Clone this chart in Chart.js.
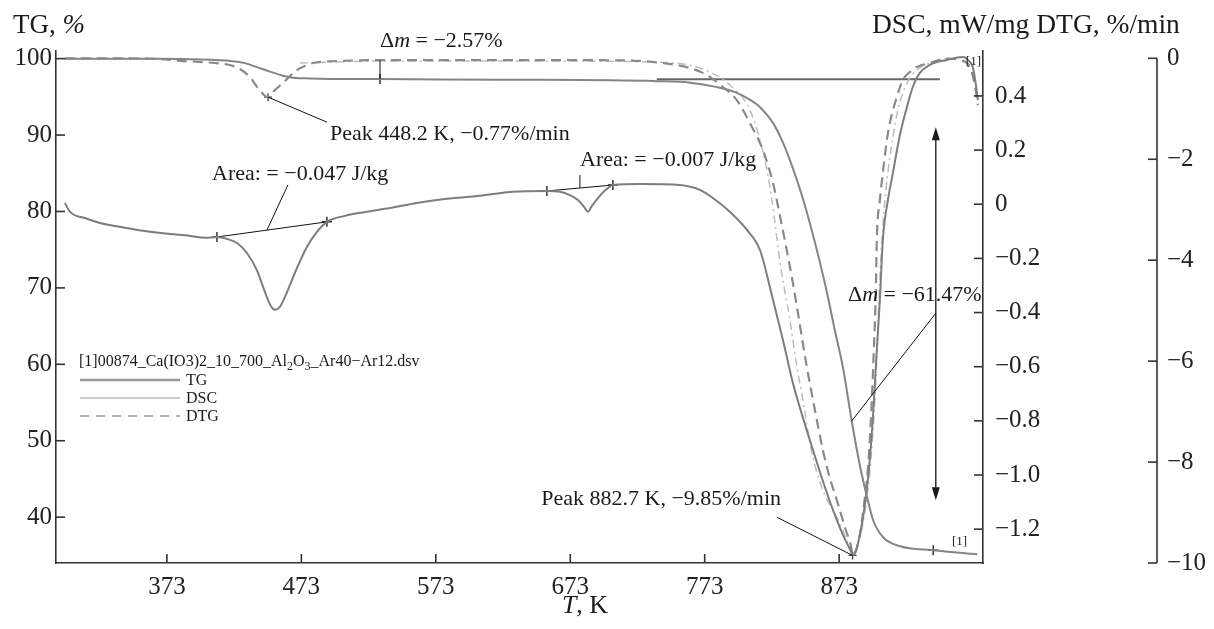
<!DOCTYPE html>
<html><head><meta charset="utf-8">
<script src="https://cdn.jsdelivr.net/npm/chart.js@4.4.1/dist/chart.umd.min.js"></script>
<style>html,body{margin:0;padding:0;background:#fff;}canvas{display:block;}</style>
</head><body>
<canvas id="c" width="1214" height="629"></canvas>
<script>
// ---------- data ----------
const xTicks   = [373, 473, 573, 673, 773, 873];
const tgTicks  = [40, 50, 60, 70, 80, 90, 100];
const dscTicks = [0.4, 0.2, 0, -0.2, -0.4, -0.6, -0.8, -1.0, -1.2];
const dtgTicks = [0, -2, -4, -6, -8, -10];

const tgT   = [297.1, 360.4, 422.1, 431.0, 439.9, 449.6, 459.3, 466.8, 479.4, 531.5, 620.8, 737.6, 762.2, 782.2, 795.6, 804.6, 814.2, 823.9, 830.4, 836.4, 847.5, 862.4, 869.8, 875.8, 882.5, 888.4, 893.8, 898.3, 905.7, 918.4, 943.0, 975.7];
const tgVal = [100.0, 99.98, 99.67, 99.41, 98.89, 98.30, 97.77, 97.51, 97.41, 97.32, 97.25, 97.05, 96.86, 96.27, 95.62, 94.83, 93.65, 91.56, 89.34, 86.71, 80.82, 70.61, 64.46, 59.62, 52.42, 46.79, 42.60, 39.59, 37.37, 36.19, 35.67, 35.14];

const dscT   = [297.1, 300.9, 312.0, 323.2, 341.8, 360.4, 375.2, 390.1, 401.3, 410.2, 417.6, 425.1, 432.5, 439.9, 445.9, 450.3, 453.3, 457.0, 460.8, 464.5, 470.4, 477.1, 484.6, 492.0, 505.4, 521.7, 538.8, 558.9, 581.2, 605.8, 630.3, 655.6, 665.3, 672.7, 678.7, 683.9, 686.1, 689.1, 695.0, 700.2, 704.7, 724.8, 754.5, 769.4, 779.1, 791.7, 804.4, 814.1, 823.8, 831.2, 838.6, 846.1, 853.5, 860.9, 868.4, 875.8, 881.0, 883.5, 888.4, 892.1, 895.1, 898.0, 901.0, 903.3, 905.5, 909.3, 913.0, 918.2, 923.4, 927.8, 933.0, 940.5, 953.1, 965.0, 970.2, 972.4, 974.7, 976.2];
const dscVal = [0.005, -0.028, -0.051, -0.069, -0.087, -0.102, -0.110, -0.117, -0.124, -0.121, -0.128, -0.143, -0.180, -0.243, -0.324, -0.376, -0.390, -0.379, -0.342, -0.298, -0.228, -0.158, -0.102, -0.065, -0.043, -0.028, -0.014, 0.005, 0.020, 0.031, 0.046, 0.049, 0.046, 0.034, 0.016, -0.014, -0.028, -0.006, 0.031, 0.057, 0.071, 0.075, 0.071, 0.053, 0.023, -0.028, -0.095, -0.169, -0.353, -0.501, -0.660, -0.789, -0.907, -1.022, -1.129, -1.221, -1.273, -1.295, -1.221, -1.110, -0.981, -0.797, -0.538, -0.353, -0.132, 0.016, 0.116, 0.256, 0.359, 0.433, 0.485, 0.515, 0.533, 0.544, 0.526, 0.507, 0.441, 0.385];

const dtgT   = [297.1, 360.4, 384.9, 408.7, 419.9, 427.3, 434.7, 440.7, 448.2, 453.3, 459.3, 464.5, 469.7, 475.6, 481.6, 501.7, 531.4, 583.5, 657.8, 717.3, 741.9, 762.0, 774.6, 786.5, 796.9, 806.6, 816.3, 823.8, 829.0, 838.6, 849.0, 855.0, 860.9, 866.1, 871.3, 878.0, 881.7, 883.0, 888.4, 891.4, 894.3, 896.6, 898.8, 900.3, 901.0, 903.3, 905.5, 908.5, 910.7, 915.2, 920.4, 925.6, 930.8, 940.5, 953.1, 962.8, 970.2, 973.9, 976.2];
const dtgVal = [0, -0.006, -0.054, -0.093, -0.133, -0.212, -0.371, -0.589, -0.77, -0.628, -0.490, -0.351, -0.232, -0.153, -0.093, -0.054, -0.034, -0.034, -0.034, -0.044, -0.093, -0.192, -0.331, -0.569, -0.827, -1.283, -1.818, -2.472, -3.126, -4.454, -6.120, -6.972, -7.765, -8.320, -8.756, -9.351, -9.649, -9.85, -9.45, -8.856, -8.162, -7.171, -5.783, -4.594, -3.602, -2.809, -2.274, -1.620, -1.283, -0.827, -0.430, -0.272, -0.172, -0.093, -0.004, -0.034, -0.172, -0.529, -0.926];

// second, unlabelled dash-dot trace (DTG scale)
const dd2T   = [471.9, 531.4, 657.8, 732.2, 769.4, 791.7, 806.6, 817.8, 823.0, 829.0, 836.4, 841.6, 846.8, 851.2, 860.9, 871.3, 878.8, 883.0, 888.4, 892.9, 896.6, 900.3, 902.6, 904.8, 907.8, 911.5, 916.7, 922.7, 930.8, 940.5, 953.1];
const dd2Val = [-0.093, -0.054, -0.054, -0.073, -0.192, -0.530, -1.025, -2.016, -2.809, -4.038, -5.188, -6.120, -6.873, -7.627, -8.559, -9.094, -9.550, -9.85, -9.490, -8.856, -7.964, -6.378, -4.792, -3.602, -2.611, -1.818, -1.025, -0.530, -0.232, -0.093, 0];

const dscMarkT = [410.2, 492.0, 655.6, 704.7];
const dscMarkV = [-0.121, -0.065, 0.049, 0.071];
const tgMarkT  = [531.5, 943.0];
const tgMarkV  = [97.32, 35.67];
const dtgPeakT = [448.2, 883.0];
const dtgPeakV = [-0.77, -9.85];
const tgBaseT  = [737.4, 947.9];
const tgBaseV  = [97.3, 97.3];

// ---------- helpers ----------
const SERIF = "'Liberation Serif','Times New Roman',serif";
const pts = (xs, ys) => xs.map((x, i) => ({x, y: ys[i]}));
const minus = s => s.replace('-', '\u2212');

function fontFor(st, size) {
  if (st === 'i') return `italic ${size}px ${SERIF}`;
  if (st === 'sub') return `${Math.round(size * 0.72)}px ${SERIF}`;
  return `${size}px ${SERIF}`;
}
function runs(ctx, x, y, parts, size, align) {
  let w = 0;
  const ws = parts.map(p => { ctx.font = fontFor(p[1], size); const m = ctx.measureText(p[0]).width; w += m; return m; });
  let cx = align === 'right' ? x - w : (align === 'center' ? x - w / 2 : x);
  ctx.textAlign = 'left'; ctx.textBaseline = 'alphabetic';
  parts.forEach((p, i) => {
    ctx.font = fontFor(p[1], size);
    ctx.fillText(p[0], cx, y + (p[1] === 'sub' ? size * 0.22 : 0));
    cx += ws[i];
  });
}
function seg(ctx, a, b) { ctx.beginPath(); ctx.moveTo(a[0], a[1]); ctx.lineTo(b[0], b[1]); ctx.stroke(); }

// inward tick marks + DTG axis line
const axesPlugin = {
  id: 'axesPlugin',
  afterDraw(chart) {
    const ctx = chart.ctx, L = 9;
    ctx.save();
    ctx.strokeStyle = '#333'; ctx.lineWidth = 1.6;
    const sx = chart.scales.x;
    xTicks.forEach(v => { const p = sx.getPixelForValue(v); seg(ctx, [p, sx.top], [p, sx.top - L]); });
    const s1 = chart.scales.yTG;
    tgTicks.forEach(v => { const p = s1.getPixelForValue(v); seg(ctx, [s1.right, p], [s1.right + L, p]); });
    const s2 = chart.scales.yDSC;
    dscTicks.forEach(v => { const p = s2.getPixelForValue(v); seg(ctx, [s2.left, p], [s2.left - L, p]); });
    const s3 = chart.scales.yDTG;
    dtgTicks.forEach(v => { const p = s3.getPixelForValue(v); seg(ctx, [s3.left, p], [s3.left - L, p]); });
    seg(ctx, [s3.left, s3.getPixelForValue(0)], [s3.left, s3.getPixelForValue(-10)]);
    ctx.restore();
  }
};

// texts, leaders, legend
const notesPlugin = {
  id: 'notesPlugin',
  afterDraw(chart) {
    const ctx = chart.ctx;
    const X = v => chart.scales.x.getPixelForValue(v);
    const Y = (a, v) => chart.scales[a].getPixelForValue(v);
    ctx.save();
    ctx.fillStyle = '#1a1a1a';
    // axis titles
    runs(ctx, 13, 33, [['TG, ', ''], ['%', 'i']], 27);
    runs(ctx, 872, 33, [['DSC, mW/mg DTG, %/min', '']], 27.5);
    runs(ctx, 585, 613, [['T', 'i'], [', K', '']], 26, 'center');

    // annotation texts
    runs(ctx, 380, 47, [['\u0394', ''], ['m', 'i'], [' = \u22122.57%', '']], 22);
    runs(ctx, 330, 140, [['Peak 448.2 K, \u22120.77%/min', '']], 22);
    runs(ctx, 212, 180, [['Area: = \u22120.047 J/kg', '']], 22);
    runs(ctx, 580, 166, [['Area: = \u22120.007 J/kg', '']], 22);
    runs(ctx, 848, 301, [['\u0394', ''], ['m', 'i'], [' = \u221261.47%', '']], 22);
    runs(ctx, 781, 505, [['Peak 882.7 K, \u22129.85%/min', '']], 22, 'right');
    runs(ctx, 981, 65, [['[1]', '']], 13, 'right');
    runs(ctx, 952, 545, [['[1]', '']], 13);

    // leader lines
    ctx.strokeStyle = '#111'; ctx.lineWidth = 1;
    seg(ctx, [X(448.2), Y('yDTG', -0.77)], [X(492.0), Y('yTG', 91.69)]);
    const c1 = dscMarkV[0] + (dscMarkV[1] - dscMarkV[0]) * (447.4 - dscMarkT[0]) / (dscMarkT[1] - dscMarkT[0]);
    seg(ctx, [X(447.4), Y('yDSC', c1)], [X(463.0), Y('yDSC', 0.0714)]);
    const c2 = dscMarkV[2] + (dscMarkV[3] - dscMarkV[2]) * (680.2 - dscMarkT[2]) / (dscMarkT[3] - dscMarkT[2]);
    seg(ctx, [X(680.2), Y('yDSC', c2)], [X(680.2), Y('yDSC', 0.108)]);
    seg(ctx, [X(944.9), Y('yTG', 66.69)], [X(882.2), Y('yTG', 52.55)]);
    seg(ctx, [X(826.7), Y('yTG', 39.99)], [X(883.0), Y('yDTG', -9.85)]);
    seg(ctx, [X(531.5), Y('yTG', 97.32)], [X(531.5), Y('yTG', 99.8)]);

    // double arrow
    const ax = X(944.9), ay1 = Y('yTG', 91.03), ay2 = Y('yTG', 42.21);
    ctx.lineWidth = 1.3; ctx.strokeStyle = '#111';
    seg(ctx, [ax, ay1 + 8], [ax, ay2 - 8]);
    ctx.beginPath(); ctx.moveTo(ax, ay1); ctx.lineTo(ax - 4, ay1 + 13); ctx.lineTo(ax + 4, ay1 + 13); ctx.closePath(); ctx.fill();
    ctx.beginPath(); ctx.moveTo(ax, ay2); ctx.lineTo(ax - 4, ay2 - 13); ctx.lineTo(ax + 4, ay2 - 13); ctx.closePath(); ctx.fill();

    // legend
    ctx.fillStyle = '#1a1a1a';
    runs(ctx, 79, 366, [['[1]00874_Ca(IO3)2_10_700_Al', ''], ['2', 'sub'], ['O', ''], ['3', 'sub'], ['_Ar40\u2212Ar12.dsv', '']], 16);
    const leg = [['TG', '#9a9a9a', 2.4, []], ['DSC', '#bdbdbd', 1.6, []], ['DTG', '#b0b0b0', 2, [9, 7]]];
    leg.forEach((e, i) => {
      const y = 380 + i * 18;
      ctx.strokeStyle = e[1]; ctx.lineWidth = e[2]; ctx.setLineDash(e[3]);
      seg(ctx, [80, y], [180, y]);
      ctx.setLineDash([]);
      runs(ctx, 186, y + 5, [[e[0], '']], 16);
    });
    ctx.restore();
  }
};

const tickFont = {family: SERIF, size: 25};
const common = {grid: {drawOnChartArea: false, drawTicks: false}, border: {color: '#333', width: 1.6}};

new Chart(document.getElementById('c'), {
  type: 'line',
  data: {
    datasets: [
      {label: 'TG', data: pts(tgT, tgVal), yAxisID: 'yTG', borderColor: '#858585', borderWidth: 2, pointRadius: 0, cubicInterpolationMode: 'monotone'},
      {label: 'DSC', data: pts(dscT, dscVal), yAxisID: 'yDSC', borderColor: '#7d7d7d', borderWidth: 2, pointRadius: 0, cubicInterpolationMode: 'monotone'},
      {label: 'DTG', data: pts(dtgT, dtgVal), yAxisID: 'yDTG', borderColor: '#8a8a8a', borderWidth: 2.2, borderDash: [10, 6], pointRadius: 0, cubicInterpolationMode: 'monotone'},
      {label: 'extra', data: pts(dd2T, dd2Val), yAxisID: 'yDTG', borderColor: '#bdbdbd', borderWidth: 1.5, borderDash: [8, 4, 2, 4], pointRadius: 0, cubicInterpolationMode: 'monotone'},
      {label: 'tgBase', data: pts(tgBaseT, tgBaseV), yAxisID: 'yTG', borderColor: '#666', borderWidth: 2, pointRadius: 0},
      {label: 'chord1', data: pts(dscMarkT.slice(0, 2), dscMarkV.slice(0, 2)), yAxisID: 'yDSC', borderColor: '#111', borderWidth: 1, pointRadius: 0},
      {label: 'chord2', data: pts(dscMarkT.slice(2, 4), dscMarkV.slice(2, 4)), yAxisID: 'yDSC', borderColor: '#111', borderWidth: 1, pointRadius: 0},
      {label: 'dscMarks', data: pts(dscMarkT, dscMarkV), yAxisID: 'yDSC', showLine: false, pointStyle: 'cross', pointRadius: 5, borderColor: '#333', borderWidth: 1.5},
      {label: 'tgMarks', data: pts(tgMarkT, tgMarkV), yAxisID: 'yTG', showLine: false, pointStyle: 'cross', pointRadius: 5, borderColor: '#333', borderWidth: 1.5},
      {label: 'dtgPeaks', data: pts(dtgPeakT, dtgPeakV), yAxisID: 'yDTG', showLine: false, pointStyle: 'cross', pointRadius: 4, borderColor: '#444', borderWidth: 1.3}
    ]
  },
  options: {
    responsive: false, animation: false, devicePixelRatio: 1,
    layout: {padding: {top: 51, left: 0, right: 0, bottom: 0}},
    plugins: {legend: {display: false}, tooltip: {enabled: false}},
    scales: {
      x: {type: 'linear', position: 'bottom', min: 290.5, max: 980, ...common,
          afterBuildTicks: s => { s.ticks = xTicks.map(v => ({value: v})); },
          afterFit: s => { s.height = 66; },
          ticks: {font: tickFont, color: '#222', padding: 9, autoSkip: false, maxRotation: 0, callback: v => String(v)}},
      yTG: {type: 'linear', position: 'left', min: 34, max: 101, ...common,
          afterBuildTicks: s => { s.ticks = tgTicks.map(v => ({value: v})); },
          afterFit: s => { s.width = 56; },
          ticks: {font: tickFont, color: '#222', padding: 4, autoSkip: false, callback: v => String(v)}},
      yDSC: {type: 'linear', position: 'right', weight: 0, min: -1.325, max: 0.566, ...common,
          afterBuildTicks: s => { s.ticks = dscTicks.map(v => ({value: v})); },
          afterFit: s => { s.width = 174; },
          ticks: {font: tickFont, color: '#222', padding: 12, autoSkip: false,
                  callback: v => Math.abs(v) < 1e-9 ? '0' : minus(v.toFixed(1))}},
      yDTG: {type: 'linear', position: 'right', weight: 1, min: -10, max: 0.145,
          grid: {drawOnChartArea: false, drawTicks: false}, border: {display: false},
          afterBuildTicks: s => { s.ticks = dtgTicks.map(v => ({value: v})); },
          afterFit: s => { s.width = 57; },
          ticks: {font: tickFont, color: '#222', padding: 10, autoSkip: false,
                  callback: v => v === 0 ? '0' : minus(String(v))}}
    }
  },
  plugins: [axesPlugin, notesPlugin]
});
</script>
</body></html>
